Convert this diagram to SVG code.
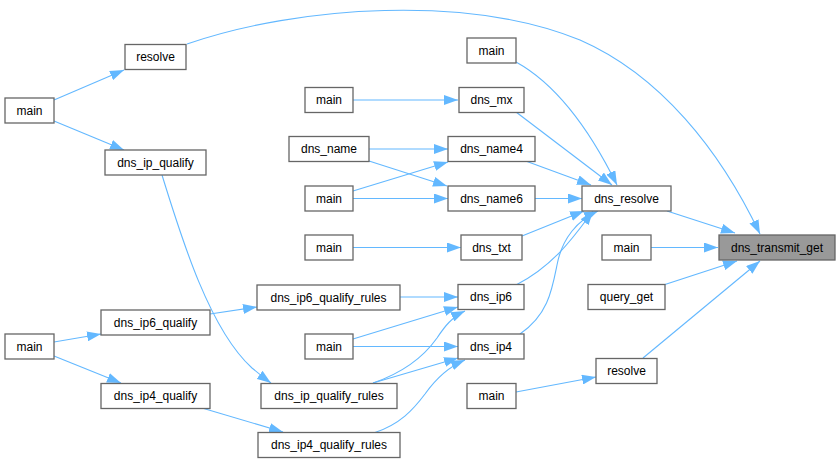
<svg xmlns="http://www.w3.org/2000/svg" width="840" height="463" viewBox="0 0 840 463">
<style>
.n rect{fill:#ffffff;stroke:#666666;stroke-width:1.3}
.n text{font-family:"Liberation Sans",Arial,sans-serif;font-size:12px;fill:#000000;text-anchor:middle}
.hl rect{fill:#999999}
.e path{fill:none;stroke:#63b8ff;stroke-width:1.1;marker-end:url(#a)}
</style>
<defs>
<marker id="a" viewBox="0 0 14 10" refX="14" refY="5" markerWidth="14" markerHeight="10" markerUnits="userSpaceOnUse" orient="auto">
<path d="M0,0 L14,5 L0,10 z" fill="#63b8ff"/>
</marker>
</defs>
<rect width="840" height="463" fill="#ffffff"/>
<g class="e" id="edges">
<path d="M54,100 L124,70"/>
<path d="M54,121 L124,150"/>
<path d="M187,44 C300,5 470,-5 580,40 C660,75 720,150 760,234"/>
<path d="M162,175 C182,240 210,330 252,368 C258,373 264,378 271,383"/>
<path d="M54,342 L101,334"/>
<path d="M54,356 L121,383"/>
<path d="M210,314 L257,307"/>
<path d="M202,408 L283,432"/>
<path d="M353,100 L458,100"/>
<path d="M369,149 L448,149"/>
<path d="M369,161 L447,186"/>
<path d="M353,191 L448,162"/>
<path d="M353,198.5 L448,198.5"/>
<path d="M353,247.5 L461,247.5"/>
<path d="M400,297 L458,297"/>
<path d="M353,339 L458,307"/>
<path d="M353,346.5 L458,346.5"/>
<path d="M373,383 C405,372 425,355 437,338 C445,326 452,317 465,311"/>
<path d="M373,383 L458,358"/>
<path d="M375,432.5 C400,424 413,410 425,394 C435,380 448,367 465,360"/>
<path d="M516,112 L612,185"/>
<path d="M516,62 C545,78 580,110 617,185"/>
<path d="M527,161.5 L591,185"/>
<path d="M535,198.5 L582,198.5"/>
<path d="M522,236 L584,211"/>
<path d="M516,285 C555,265 575,235 593,211"/>
<path d="M520,334 C548,315 552,290 557,265 C562,238 578,220 598,211"/>
<path d="M667,211 L735,233"/>
<path d="M651,247.5 L718,247.5"/>
<path d="M665,284.5 L737,261"/>
<path d="M643,358 L760,261"/>
<path d="M516,392 L596,377"/>
</g>
<g class="n hl" id="n_dtg"><rect x="719" y="235" width="116" height="25"/><text x="777" y="251.5">dns_transmit_get</text></g>
<g class="n" id="n_main_r"><rect x="602" y="235" width="49" height="25"/><text x="626.5" y="251.5">main</text></g>
<g class="n" id="n_qg"><rect x="588" y="284.5" width="77" height="25"/><text x="626.5" y="301">query_get</text></g>
<g class="n" id="n_res2"><rect x="596" y="358.5" width="61" height="25"/><text x="626.5" y="375">resolve</text></g>
<g class="n" id="n_dr"><rect x="582" y="186" width="89" height="25"/><text x="626.5" y="202.5">dns_resolve</text></g>
<g class="n" id="n_main_t"><rect x="467" y="38" width="49" height="25"/><text x="491.5" y="54.5">main</text></g>
<g class="n" id="n_mx"><rect x="459" y="87.5" width="65" height="25"/><text x="491.5" y="104">dns_mx</text></g>
<g class="n" id="n_n4"><rect x="448" y="136.5" width="87" height="25"/><text x="491.5" y="153">dns_name4</text></g>
<g class="n" id="n_n6"><rect x="448" y="186" width="87" height="25"/><text x="491.5" y="202.5">dns_name6</text></g>
<g class="n" id="n_txt"><rect x="461" y="235" width="61" height="25"/><text x="491.5" y="251.5">dns_txt</text></g>
<g class="n" id="n_ip6"><rect x="458" y="284.5" width="66" height="25"/><text x="491" y="301">dns_ip6</text></g>
<g class="n" id="n_ip4"><rect x="458" y="334" width="66" height="25"/><text x="491" y="350.5">dns_ip4</text></g>
<g class="n" id="n_main_b"><rect x="467" y="383.5" width="49" height="25"/><text x="491.5" y="400">main</text></g>
<g class="n" id="n_main1"><rect x="305" y="87.5" width="48" height="25"/><text x="329" y="104">main</text></g>
<g class="n" id="n_dn"><rect x="289" y="136.5" width="80" height="25"/><text x="329" y="153">dns_name</text></g>
<g class="n" id="n_main2"><rect x="305" y="186" width="48" height="25"/><text x="329" y="202.5">main</text></g>
<g class="n" id="n_main3"><rect x="305" y="235" width="48" height="25"/><text x="329" y="251.5">main</text></g>
<g class="n" id="n_ip6qr"><rect x="257" y="285" width="143" height="25"/><text x="328.5" y="301.5">dns_ip6_qualify_rules</text></g>
<g class="n" id="n_main4"><rect x="305" y="334" width="48" height="25"/><text x="329" y="350.5">main</text></g>
<g class="n" id="n_ipqr"><rect x="261" y="383.5" width="136" height="25"/><text x="329" y="400">dns_ip_qualify_rules</text></g>
<g class="n" id="n_ip4qr"><rect x="258" y="432.5" width="142" height="25"/><text x="329" y="449">dns_ip4_qualify_rules</text></g>
<g class="n" id="n_res1"><rect x="125" y="44.5" width="61" height="25"/><text x="155.5" y="61">resolve</text></g>
<g class="n" id="n_main5"><rect x="5" y="98" width="49" height="25"/><text x="29.5" y="114.5">main</text></g>
<g class="n" id="n_ipq"><rect x="105" y="150" width="101" height="25"/><text x="155.5" y="166.5">dns_ip_qualify</text></g>
<g class="n" id="n_ip6q"><rect x="101" y="310" width="109" height="25"/><text x="155.5" y="326.5">dns_ip6_qualify</text></g>
<g class="n" id="n_main6"><rect x="5" y="334" width="49" height="25"/><text x="29.5" y="350.5">main</text></g>
<g class="n" id="n_ip4q"><rect x="101" y="383.5" width="109" height="25"/><text x="155.5" y="400">dns_ip4_qualify</text></g>
</svg>
